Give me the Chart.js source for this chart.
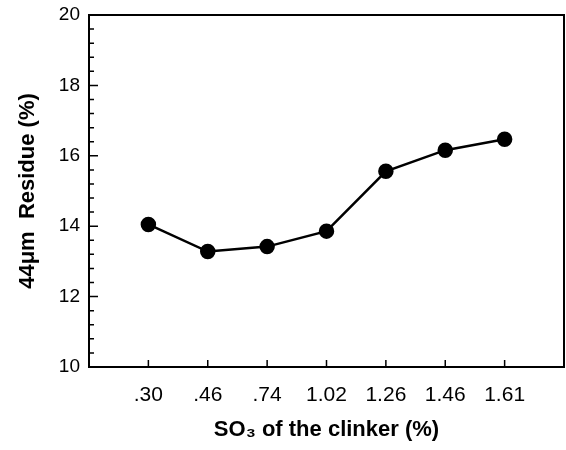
<!DOCTYPE html>
<html>
<head>
<meta charset="utf-8">
<script src="https://cdn.jsdelivr.net/npm/chart.js@4/dist/chart.umd.min.js"></script>
<style>
  html, body { margin: 0; padding: 0; background: #fff; }
  #wrap { width: 566px; height: 450px; }
</style>
</head>
<body>
<div id="wrap"><canvas id="c" width="566" height="450"></canvas></div>
<script>
const categories = ['.30', '.46', '.74', '1.02', '1.26', '1.46', '1.61'];
const residue = [14.05, 13.28, 13.42, 13.86, 15.56, 16.16, 16.47];
const yTicks = [10, 12, 14, 16, 18, 20];
const yMinorStep = 0.4;
const xTitle = 'SO\u2083 of the clinker (%)';
const yTitle = '44\u03bcm  Residue (%)';

const points = residue.map((v, i) => ({ x: i, y: v }));

const FONT = 'Liberation Sans, Arial, sans-serif';

const framePlugin = {
  id: 'frame',
  afterDatasetsDraw(chart) {
    const { ctx, chartArea: a, scales } = chart;
    const xs = scales.x, ys = scales.y;
    ctx.save();
    ctx.strokeStyle = '#000';
    ctx.lineWidth = 2;
    ctx.strokeRect(a.left, a.top, a.right - a.left, a.bottom - a.top);
    ctx.lineWidth = 1.5;
    ctx.beginPath();
    categories.forEach((c, i) => {
      const px = xs.getPixelForValue(i);
      ctx.moveTo(px, a.bottom);
      ctx.lineTo(px, a.bottom - 7);
    });
    const lo = ys.min, hi = ys.max;
    for (let k = 0; lo + k * yMinorStep <= hi + 1e-9; k++) {
      const v = lo + k * yMinorStep;
      const py = ys.getPixelForValue(v);
      const isMajor = yTicks.some(t => Math.abs(t - v) < 1e-6);
      ctx.moveTo(a.left, py);
      ctx.lineTo(a.left + (isMajor ? 9 : 5), py);
    }
    ctx.stroke();
    ctx.restore();
  }
};

new Chart(document.getElementById('c'), {
  type: 'line',
  data: {
    datasets: [{
      data: points,
      borderColor: '#000',
      backgroundColor: '#000',
      borderWidth: 2.5,
      pointRadius: 6.5,
      pointHoverRadius: 6.5,
      pointBackgroundColor: '#000',
      pointBorderColor: '#000',
      tension: 0,
      fill: false
    }]
  },
  options: {
    responsive: false,
    animation: false,
    events: [],
    layout: { autoPadding: false, padding: { top: 15, right: 2, left: 0, bottom: 0 } },
    plugins: { legend: { display: false }, tooltip: { enabled: false } },
    scales: {
      x: {
        type: 'linear',
        min: -1,
        max: categories.length,
        afterFit(s) { s.height = 83; s.paddingLeft = 0; s.paddingRight = 0; },
        afterBuildTicks(s) {
          s.ticks = categories.map((c, i) => ({ value: i }));
        },
        grid: { display: false, drawTicks: false },
        border: { display: false },
        ticks: {
          color: '#000',
          padding: 16,
          autoSkip: false,
          maxRotation: 0,
          font: { family: FONT, size: 21 },
          callback: (v) => categories[v] !== undefined ? categories[v] : ''
        },
        title: {
          display: true,
          text: xTitle,
          color: '#000',
          padding: { top: 0, bottom: 7 },
          font: { family: FONT, size: 22, weight: 'bold' }
        }
      },
      y: {
        type: 'linear',
        min: 10,
        max: 20,
        afterFit(s) { s.width = 89; s.paddingTop = 0; s.paddingBottom = 0; },
        afterBuildTicks(s) {
          s.ticks = yTicks.map(v => ({ value: v }));
        },
        grid: { display: false, drawTicks: false },
        border: { display: false },
        ticks: {
          color: '#000',
          padding: 9,
          font: { family: FONT, size: 19 }
        },
        title: {
          display: true,
          text: yTitle,
          color: '#000',
          padding: { top: 15, bottom: 0 },
          font: { family: FONT, size: 22, weight: 'bold' }
        }
      }
    }
  },
  plugins: [framePlugin]
});
</script>
</body>
</html>
